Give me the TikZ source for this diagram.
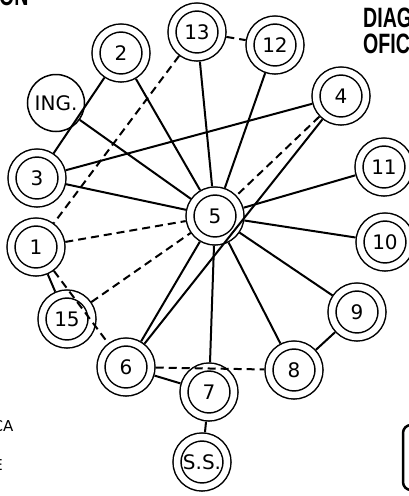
\documentclass[tikz,border=0pt]{standalone}
\usepackage{fontspec}
\setmainfont{DejaVu Sans}
\newfontfamily\titlefont{Liberation Sans}
\usetikzlibrary{arrows.meta,positioning}

\begin{document}
\begin{tikzpicture}[
  x=1pt, y=-1pt,
  sta/.style={circle, draw, line width=1.5pt, double, double distance=6.5pt, minimum size=50pt, inner sep=0pt, outer sep=4.75pt, font=\fontsize{20}{24}\selectfont},
  ing/.style={circle, draw, line width=1.5pt, minimum size=57pt, inner sep=0pt, font=\fontsize{20}{24}\selectfont},
  lnk/.style={line width=2pt},
  dsh/.style={line width=2pt, dash pattern=on 8pt off 5pt},
  ttl/.style={font=\titlefont\bfseries\fontsize{28}{30}\selectfont, inner sep=0pt},
  lbl/.style={font=\fontsize{15}{18}\selectfont, inner sep=0pt}
]
\useasboundingbox (0,0) rectangle (409,496);
\clip (0,0) rectangle (409,496);

\node[ttl, anchor=base west] (ttlA) at (-1,5) {\scalebox{0.7}[1]{ON}};
\node[ttl, anchor=base west] (ttlB) at (363,27) {\scalebox{0.7}[1]{DIAG}};
\node[ttl, anchor=base west] (ttlC) at (363,53) {\scalebox{0.7}[1]{OFIC}};
\node[lbl, anchor=base east] (lblA) at (13.5,431) {CA};
\node[lbl, anchor=base east] (lblB) at (3,470) {E};
\draw[line width=2.5pt, rounded corners=8pt] (403,425) rectangle (440,490);

\node[sta] (n13) at (197,32) {13};
\node[sta] (n12) at (275,45) {12};
\node[sta] (n2) at (121,53) {2};
\node[ing] (ing) at (56,103) {ING.};
\node[sta] (n4) at (341,96) {4};
\node[sta] (n3) at (37,178) {3};
\node[sta] (n11) at (384,167) {11};
\node[sta] (n5) at (215,216) {5};
\node[sta] (n10) at (385,242) {10};
\node[sta] (n1) at (36,247) {1};
\node[sta] (n15) at (67,319) {15};
\node[sta] (n9) at (357,312) {9};
\node[sta] (n6) at (126,367) {6};
\node[sta] (n8) at (294,370) {8};
\node[sta] (n7) at (209,392) {7};
\node[sta] (ss) at (202,462) {S.S.};

\draw[lnk] (ing) -- (n5);
\draw[lnk] (n2) -- (n3);
\draw[lnk] (n2) -- (n5);
\draw[lnk] (n13) -- (n5);
\draw[lnk] (n12) -- (n5);
\draw[lnk] (n4) -- (n3);
\draw[lnk] (n4) -- (n6);
\draw[lnk] (n3) -- (n5);
\draw[lnk] (n11) -- (n5);
\draw[lnk] (n10) -- (n5);
\draw[lnk] (n5) -- (n9);
\draw[lnk] (n5) -- (n8);
\draw[lnk] (n5) -- (n7);
\draw[lnk] (n5) -- (n6);
\draw[lnk] (n1) -- (n15);
\draw[lnk] (n6) -- (n7);
\draw[lnk] (n7) -- (ss);
\draw[lnk] (n9) -- (n8);

\draw[dsh] (n13) -- (n12);
\draw[dsh] (n13) -- (n1);
\draw[dsh] (n4) -- (n5);
\draw[dsh] (n1) -- (n5);
\draw[dsh] (n15) -- (n5);
\draw[dsh] (n1) -- (n6);
\draw[dsh] (n6) -- (n8);
\end{tikzpicture}
\end{document}
